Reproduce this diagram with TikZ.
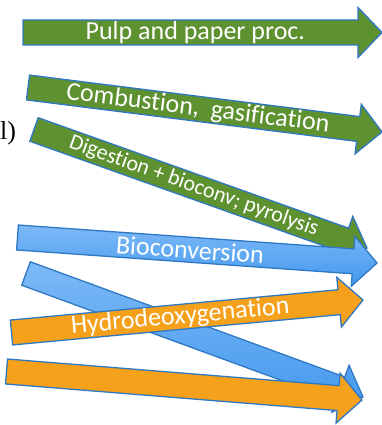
\documentclass[tikz,border=0pt]{standalone}
\usepackage{fontspec}
\setmainfont{Liberation Serif}
\newfontfamily\labfont[Ligatures=NoCommon]{Carlito}
\usetikzlibrary{calc}
\definecolor{arrgreen}{HTML}{5E9130}
\definecolor{arrorange}{HTML}{F5A11C}
\definecolor{arredge}{HTML}{2F78C4}
\definecolor{bluetop}{HTML}{7DB9F7}
\definecolor{bluebot}{HTML}{4398EE}
\tikzset{
 arrowbase/.style={draw=arredge, line width=1.3pt, line join=miter},
 greenarrow/.style={arrowbase, fill=arrgreen},
 orangearrow/.style={arrowbase, fill=arrorange},
 bluearrow/.style={arrowbase, top color=bluetop, bottom color=bluebot},
 arrowlabel/.style={text=white, font=\labfont\fontsize{26}{30}\selectfont, inner sep=0pt, sloped},
 smalllabel/.style={arrowlabel, font=\labfont\fontsize{22}{26}\selectfont},
}
% #1 tail, #2 tip, #3 style, #4 prefix for helper coordinate
\newcommand\blockarrow[4]{%
 \coordinate (#4h) at ($(#2)!24pt!(#1)$);
 \draw[#3] ($(#1)!12.5pt!90:(#2)$) -- ($(#4h)!12.5pt!90:(#2)$) -- ($(#4h)!25pt!90:(#2)$)
   -- (#2) -- ($(#4h)!25pt!-90:(#2)$) -- ($(#4h)!12.5pt!-90:(#2)$) -- ($(#1)!12.5pt!-90:(#2)$) -- cycle;}
\begin{document}
\begin{tikzpicture}[x=1pt,y=1pt]
\useasboundingbox (0,0) rectangle (382,425);
\coordinate (t1) at (23,392.5);  \coordinate (p1) at (382,392.5);
\coordinate (t2) at (28,337.5);  \coordinate (p2) at (382,293);
\coordinate (t3) at (34,295.5);  \coordinate (p3) at (367,177);
\coordinate (t4) at (17.5,187.5); \coordinate (p4) at (377,162);
\coordinate (t5) at (26,151.5);  \coordinate (p5) at (363,28);
\coordinate (t6) at (11.5,92.5); \coordinate (p6) at (363,125);
\coordinate (t7) at (6.5,53.5);  \coordinate (p7) at (362,25);

\node[anchor=west, inner sep=0pt, font=\fontsize{26}{30}\selectfont] (mark) at (0,292) {l)};

\blockarrow{t1}{p1}{greenarrow}{a1}
\path (t1) -- (p1) node[arrowlabel, pos=0.48] (lab1) {Pulp and paper proc.};
\blockarrow{t2}{p2}{greenarrow}{a2}
\path (t2) -- (p2) node[arrowlabel, pos=0.48] (lab2) {Combustion,\ \ gasification};
\blockarrow{t3}{p3}{greenarrow}{a3}
\path (t3) -- (p3) node[smalllabel, pos=0.48] (lab3) {Digestion + bioconv; pyrolysis};
\blockarrow{t4}{p4}{bluearrow}{a4}
\path (t4) -- (p4) node[arrowlabel, pos=0.48] (lab4) {Bioconversion};
\blockarrow{t5}{p5}{bluearrow}{a5}
\blockarrow{t6}{p6}{orangearrow}{a6}
\path (t6) -- (p6) node[arrowlabel, pos=0.48] (lab6) {Hydrodeoxygenation};
\blockarrow{t7}{p7}{orangearrow}{a7}
\end{tikzpicture}
\end{document}
